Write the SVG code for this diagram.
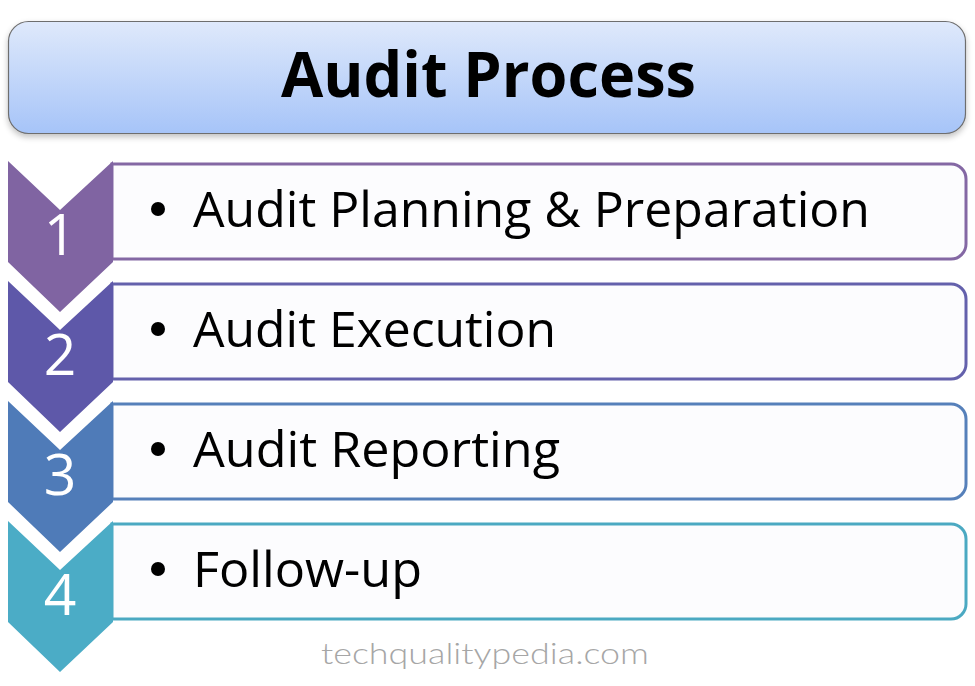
<svg xmlns="http://www.w3.org/2000/svg" width="975" height="686" viewBox="0 0 975 686">
<defs>
<linearGradient id="tg" x1="0" y1="0" x2="0" y2="1">
<stop offset="0" stop-color="#dfe9fb"/>
<stop offset="1" stop-color="#a6c4f8"/>
</linearGradient>
<filter id="sh" x="-5%" y="-20%" width="110%" height="150%">
<feGaussianBlur in="SourceAlpha" stdDeviation="3"/>
<feOffset dx="0" dy="3" result="b"/>
<feComponentTransfer><feFuncA type="linear" slope="0.25"/></feComponentTransfer>
<feMerge><feMergeNode/><feMergeNode in="SourceGraphic"/></feMerge>
</filter>
<path id="bx" d="M112,0 H951 A15,15 0 0 1 966,15 V80 A15,15 0 0 1 951,95 H112 Z"/>
</defs>
<style>
.box{fill:#fcfcfe;stroke-width:3}
.item{font-family:"Open Sans","Liberation Sans",sans-serif;font-size:49px;fill:#000}
.num{font-family:"Open Sans","Liberation Sans",sans-serif;font-size:57px;fill:#fff;text-anchor:middle}
</style>
<rect width="975" height="686" fill="#ffffff"/>
<g id="title">
<rect x="8.5" y="21.5" width="957" height="112" rx="20" fill="url(#tg)" stroke="#6e6e6e" stroke-width="1.2" filter="url(#sh)"/>
<text x="281" y="97" font-family="'Open Sans','Liberation Sans',sans-serif" font-weight="bold" font-size="63" textLength="415" lengthAdjust="spacingAndGlyphs" fill="#000">Audit Process</text>
</g>
<g id="step1">
<use href="#bx" class="box" y="164" stroke="#8468a4"/>
<polygon points="8,161 60,210 113,161 113,262 60,312 8,262" fill="#8064a2"/>
<text class="num" x="60" y="255">1</text>
<circle cx="158" cy="209" r="7"/>
<text class="item" x="193" y="227" textLength="677" lengthAdjust="spacingAndGlyphs">Audit Planning &amp; Preparation</text>
</g>
<g id="step2">
<use href="#bx" class="box" y="284" stroke="#6461ac"/>
<polygon points="8,281 60,330 113,281 113,382 60,432 8,382" fill="#5e58a9"/>
<text class="num" x="60" y="375">2</text>
<circle cx="158" cy="329" r="7"/>
<text class="item" x="193" y="347" textLength="363" lengthAdjust="spacingAndGlyphs">Audit Execution</text>
</g>
<g id="step3">
<use href="#bx" class="box" y="404" stroke="#5680ba"/>
<polygon points="8,401 60,450 113,401 113,502 60,552 8,502" fill="#4f7bb8"/>
<text class="num" x="60" y="495">3</text>
<circle cx="158" cy="449" r="7"/>
<text class="item" x="193" y="467" textLength="367" lengthAdjust="spacingAndGlyphs">Audit Reporting</text>
</g>
<g id="step4">
<use href="#bx" class="box" y="524" stroke="#4ba9c2"/>
<polygon points="8,521 60,570 113,521 113,622 60,672 8,622" fill="#4bacc6"/>
<text class="num" x="60" y="615">4</text>
<circle cx="158" cy="569" r="7"/>
<text class="item" x="193" y="587" textLength="229" lengthAdjust="spacingAndGlyphs">Follow-up</text>
</g>
<g id="connectors"></g>
<text x="321" y="664" font-family="Lato,'Open Sans',sans-serif" font-size="30" font-weight="300" fill="#a6a6a6" textLength="328" lengthAdjust="spacingAndGlyphs">techqualitypedia.com</text>
</svg>
